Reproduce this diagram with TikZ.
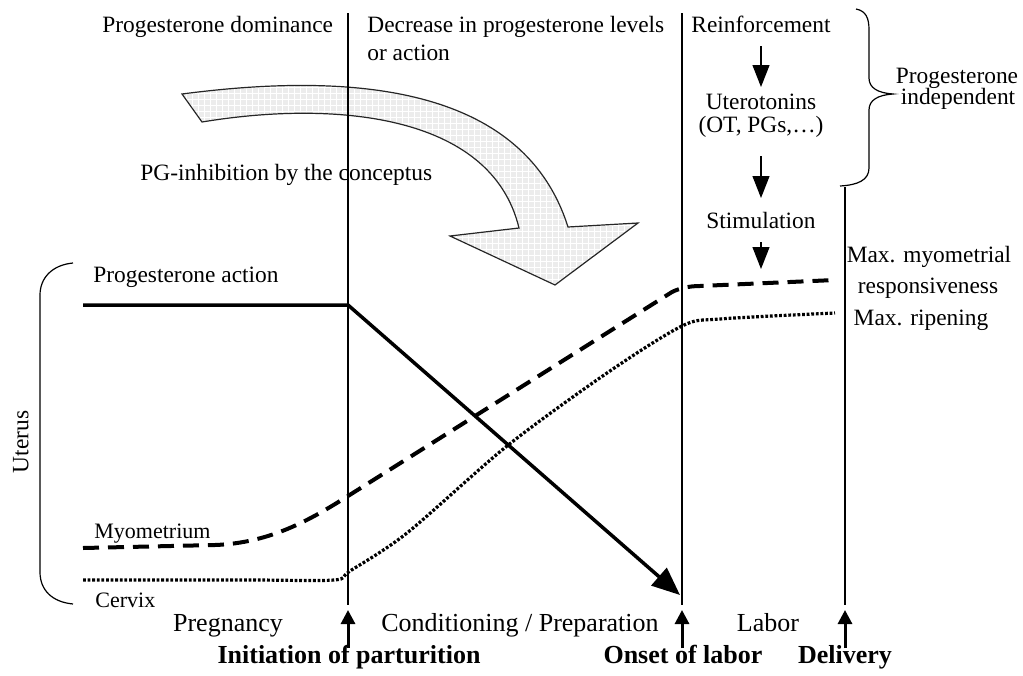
\documentclass[tikz,border=0pt]{standalone}
\usepackage{fontspec}
\setmainfont{Liberation Serif}
\usetikzlibrary{arrows.meta,patterns}
\begin{document}
\begin{tikzpicture}[x=0.5pt,y=-0.5pt,
  lbl/.style={inner sep=0pt, font=\fontsize{11.7}{14}\selectfont, text height=8pt, text depth=2.6pt},
  smalllbl/.style={lbl, font=\fontsize{11}{13}\selectfont},
  phase/.style={inner sep=0pt, font=\fontsize{13}{15}\selectfont, text height=9pt, text depth=2.9pt},
  event/.style={phase, font=\fontsize{13}{15}\selectfont\bfseries},
  divider/.style={line width=0.6pt},
  flowarrow/.style={line width=0.6pt, -{Triangle[length=11pt,width=8.5pt]}},
  eventarrow/.style={line width=1.5pt, -{Triangle[length=7pt,width=7pt]}},
  progline/.style={line width=1.75pt, line join=round, -{Triangle[length=14pt,width=11.5pt]}},
  myoline/.style={line width=2pt, dash pattern=on 8pt off 4.5pt},
  cervline/.style={line width=1.6pt, dash pattern=on 1.4pt off 0.9pt},
  bracket/.style={line width=0.6pt},
]
\useasboundingbox (0,0) rectangle (1023,675);

% broad curved arrow: PG-inhibition by the conceptus
\def\bigarrowpath{(182,94) .. controls (350,72) and (523,84.5) .. (568,227)
  -- (638,223) -- (555,285) -- (450,236) -- (519,228)
  .. controls (491,112) and (330,100.7) .. (202,122) -- cycle}
\fill[gray!15] \bigarrowpath;
\fill[pattern=grid, pattern color=white] \bigarrowpath;
\draw[line width=0.6pt, black!85] \bigarrowpath;

% phase dividers
\coordinate (d1t) at (348,13);  \coordinate (d1b) at (348,605);
\coordinate (d2t) at (682,13);  \coordinate (d2b) at (682,605);
\coordinate (d3t) at (845,187); \coordinate (d3b) at (845,605);
\draw[divider] (d1t) -- (d1b);
\draw[divider] (d2t) -- (d2b);
\draw[divider] (d3t) -- (d3b);

% top labels
\node[lbl, anchor=west] (dom) at (102,27) {Progesterone dominance};
\node[lbl, anchor=west] (dec) at (367,27) {Decrease in progesterone levels};
\node[lbl, anchor=west] (decb) at (367,55) {or action};
\node[lbl, anchor=west] (pginh) at (140,175) {PG-inhibition by the conceptus};

% progesterone-independent cascade
\node[lbl] (reinf) at (761,27) {Reinforcement};
\node[lbl] (utero) at (761,104) {Uterotonins};
\node[lbl] (otpg) at (761,127) {(OT, PGs,\ldots)};
\node[lbl] (stim) at (761,223) {Stimulation};
\coordinate (stimend) at (761,269);
\draw[flowarrow, shorten <=4pt, shorten >=3pt] (reinf) -- (utero);
\draw[flowarrow, shorten <=9pt, shorten >=7pt] (otpg) -- (stim);
\draw[flowarrow, shorten <=4pt] (stim) -- (stimend);

% right brace
\draw[bracket] (856,9) .. controls (866,11) and (869,18) .. (869,30) -- (869,78)
  .. controls (869,88) and (878,93) .. (893,94)
  .. controls (878,95) and (869,100) .. (869,110) -- (869,168)
  .. controls (869,180) and (858,185) .. (840,186);
\node[lbl] (pind1) at (957,78) {Progesterone};
\node[lbl] (pind2) at (958,99) {independent};

% left bracket: uterus
\draw[bracket] (73,263) .. controls (52,265) and (40,278) .. (40,295) -- (40,572)
  .. controls (40,590) and (52,602) .. (73,604);
\node[lbl, rotate=90] (uterus) at (23,442) {Uterus};

% curves
\node[lbl, anchor=west] (pact) at (93,277) {Progesterone action};
\coordinate (p0) at (83,305);
\coordinate (p1) at (348,305);
\coordinate (p2) at (680,595);
\draw[progline] (p0) -- (p1) -- (p2);

\node[smalllbl, anchor=west] (myo) at (94,533) {Myometrium};
\draw[myoline] (83,548) -- (215,545) .. controls (270,543) and (310,520) .. (348,496)
  -- (672,292) .. controls (680,288) and (690,286) .. (700,286) -- (835,280);

\node[smalllbl, anchor=west] (cerv) at (95,602) {Cervix};
\draw[cervline] plot[smooth, tension=0.5] coordinates {(83,580) (250,580) (334,580) (350,571)
  (407,533) (507,446) (607,373) (682,326) (720,319) (835,313)};

\node[lbl] (maxmyo) at (929,257) {Max. myometrial};
\node[lbl] (maxresp) at (928,288) {responsiveness};
\node[lbl] (maxrip) at (921,320) {Max. ripening};

% bottom: phases and events
\node[phase] (preg) at (228,625) {Pregnancy};
\node[phase] (cond) at (520,625) {Conditioning / Preparation};
\node[phase] (labor) at (768,625) {Labor};
\node[event] (init) at (349,657) {Initiation of parturition};
\node[event] (onset) at (683,657) {Onset of labor};
\node[event] (deliv) at (845,657) {Delivery};
\coordinate (e1s) at (348,648); \coordinate (e1e) at (348,610);
\coordinate (e2s) at (682,648); \coordinate (e2e) at (682,610);
\coordinate (e3s) at (845,648); \coordinate (e3e) at (845,610);
\draw[eventarrow] (e1s) -- (e1e);
\draw[eventarrow] (e2s) -- (e2e);
\draw[eventarrow] (e3s) -- (e3e);
\end{tikzpicture}
\end{document}
